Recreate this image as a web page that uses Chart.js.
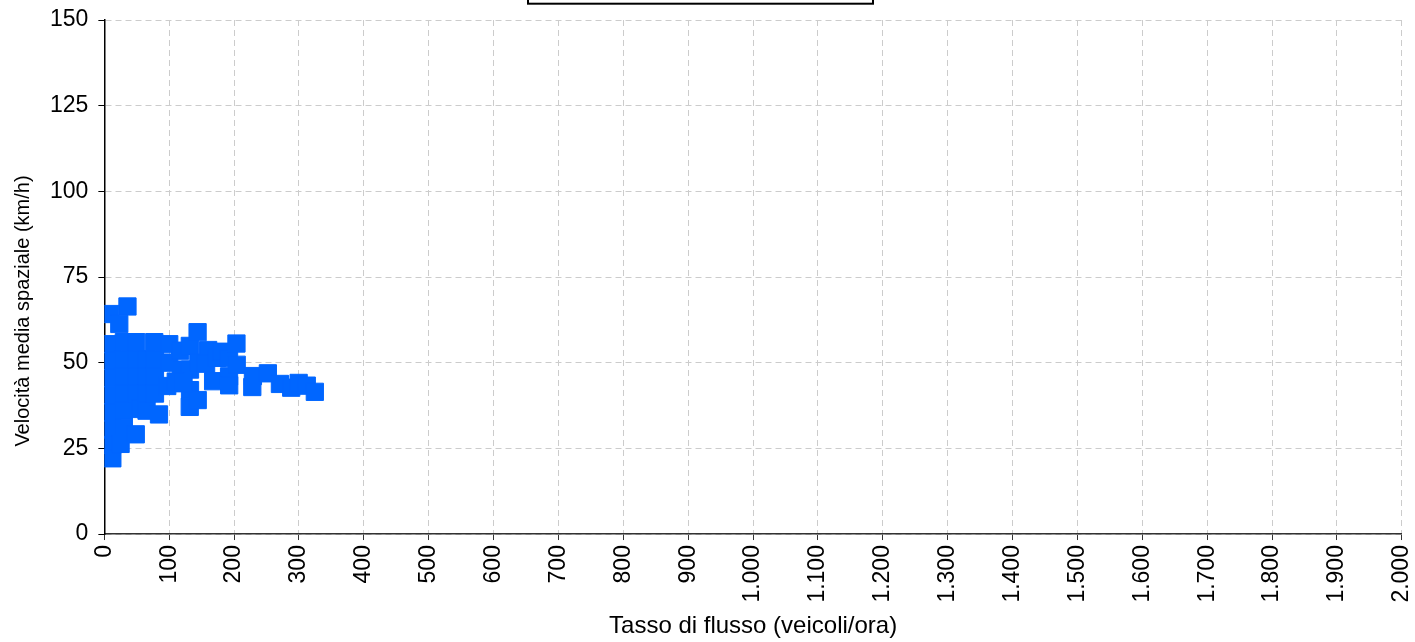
<!DOCTYPE html>
<html>
<head>
<meta charset="utf-8">
<script src="https://cdn.jsdelivr.net/npm/chart.js@4.4.1/dist/chart.umd.min.js"></script>
<style>
  html, body { margin: 0; padding: 0; background: #fff; }
  #wrap { width: 1415px; height: 642px; }
</style>
</head>
<body>
<div id="wrap"><canvas id="c" width="1415" height="642"></canvas></div>
<script>
// Flow rate (veicoli/ora) and space-mean speed (km/h)
const flowRates = [35.6, 9, 23, 12, 12, 12, 12, 12, 12, 12, 12.3, 30, 30, 30, 30, 30, 30, 25,
  49, 50, 50, 50, 55.3, 48.4, 65, 65, 65, 65, 76.9, 78, 78, 78, 84.2, 100, 100, 96.9, 116.8, 118,
  131.7, 132, 132, 131.6, 143.7, 143.9, 145, 160, 156.8, 167.6, 173.7, 180, 192.2, 192.2,
  203.6, 204, 192.4, 229, 228, 252, 270.6, 288, 299.5, 312, 324.4, 110, 122];
const speeds = [66.4, 64.2, 61.3, 55.4, 50.5, 45.5, 40.5, 35.5, 30.5, 26, 22.1, 56, 51, 46, 41, 36, 31, 26.3,
  56, 51, 46, 41, 36.5, 29.1, 51, 46, 41, 36, 56, 51, 46, 41, 34.9, 55.4, 50, 43.2, 53.5, 48,
  54.9, 48, 42, 37.1, 58.9, 39.1, 50, 53.7, 49.7, 44.6, 51.4, 53.2, 51.3, 46.0,
  55.6, 49.4, 43.4, 46.1, 42.9, 46.9, 43.8, 42.7, 44.1, 43.3, 41.5, 44.5, 44.0];

const xTitle = 'Tasso di flusso (veicoli/ora)';
const yTitle = 'Velocità media spaziale (km/h)';
const xMin = 0, xMax = 2000, xStep = 100;
const yMin = 0, yMax = 150, yStep = 25;

const points = flowRates.map((x, i) => ({ x: x, y: speeds[i] }));
const fmtIt = v => String(v).replace(/\B(?=(\d{3})+(?!\d))/g, '.');

const FONT = "'Liberation Sans', Arial, sans-serif";

// legend frame (partly outside the canvas in the reference) and the y axis title
const decorations = {
  id: 'decorations',
  afterDraw(chart) {
    const ctx = chart.ctx;
    ctx.save();
    ctx.strokeStyle = '#000';
    ctx.lineWidth = 2;
    const cx = chart.width / 2 - 7;
    ctx.strokeRect(cx - 172.5, -20, 345, 23.7);
    ctx.restore();

    ctx.save();
    ctx.fillStyle = '#000';
    ctx.font = "20px " + FONT;
    ctx.textAlign = 'center';
    ctx.textBaseline = 'middle';
    ctx.translate(23, chart.height / 2 - 10);
    ctx.rotate(-Math.PI / 2);
    ctx.fillText(yTitle, 0, 0);
    ctx.restore();
  }
};

new Chart(document.getElementById('c'), {
  type: 'scatter',
  data: {
    datasets: [{
      label: 'Velocità media spaziale',
      data: points,
      pointStyle: 'rect',
      pointRadius: 12.2,
      pointHoverRadius: 12.2,
      borderWidth: 1,
      backgroundColor: '#0066ff',
      borderColor: '#0066ff',
      clip: 0
    }]
  },
  options: {
    responsive: false,
    animation: false,
    events: [],
    layout: { padding: { top: 2, right: 6.8, bottom: 1.6, left: 40 } },
    plugins: {
      legend: { display: false },
      tooltip: { enabled: false }
    },
    scales: {
      x: {
        type: 'linear',
        min: xMin, max: xMax,
        afterFit: s => { s.paddingLeft = 0; s.paddingRight = 0; },
        ticks: {
          stepSize: xStep,
          minRotation: 90, maxRotation: 90,
          color: '#000',
          padding: 5,
          font: { family: FONT, size: 23 },
          callback: v => fmtIt(v)
        },
        grid: { color: '#cccccc', tickColor: '#333', tickLength: 6, lineWidth: 1 },
        border: { display: true, color: '#333', width: 1.5, dash: [6, 4] },
        title: { display: true, text: xTitle, color: '#000', font: { family: FONT, size: 24 }, padding: { top: 4, bottom: 0 } }
      },
      y: {
        type: 'linear',
        min: yMin, max: yMax,
        afterFit: s => { s.paddingTop = 20; s.paddingBottom = 0; },
        ticks: {
          stepSize: yStep,
          color: '#000',
          padding: 10,
          font: { family: FONT, size: 23 }
        },
        grid: { color: '#cccccc', tickColor: '#000', tickLength: 6, lineWidth: 1 },
        border: { display: true, color: '#000', width: 1.5, dash: [6, 4] },
        title: { display: false, text: yTitle }
      }
    }
  },
  plugins: [decorations]
});
</script>
</body>
</html>
